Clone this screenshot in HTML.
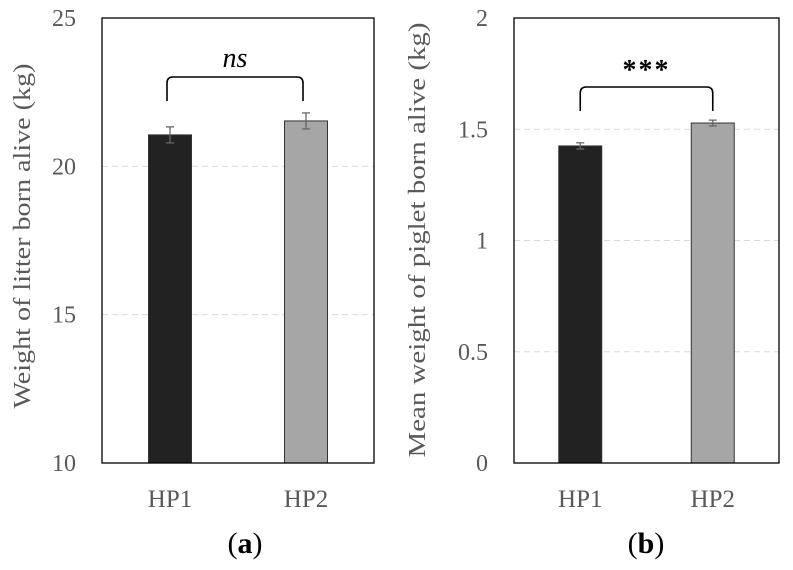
<!DOCTYPE html>
<html><head><meta charset="utf-8"><style>
html,body{margin:0;padding:0;background:#fff}
svg{display:block;font-family:"Liberation Serif",serif}
</style></head><body>
<svg id="c" width="793" height="570" viewBox="0 0 793 570"></svg>
<script>
const categories=["HP1","HP2"];
const litterValues=[21.06,21.53];
const litterErrors=[0.27,0.27];
const litterTicks=[10,15,20,25];
const pigletValues=[1.425,1.528];
const pigletErrors=[0.014,0.013];
const pigletTicks=[0,0.5,1,1.5,2];
const colors=["#222222","#a6a6a6"];
const NS="http://www.w3.org/2000/svg";
const svg=document.getElementById('c');
function mk(tag,attrs,parent){const e=document.createElementNS(NS,tag);for(const k in attrs)e.setAttribute(k,attrs[k]);(parent||svg).appendChild(e);return e;}
function panel(o){
  const g=mk('g',{});
  
  
  const y=v=>o.bottom-(v-o.min)/(o.max-o.min)*(o.bottom-o.top);
  o.ticks.forEach((t,i)=>{
    if(i>0&&i<o.ticks.length-1){const gl=mk('line',{x1:o.left,x2:o.right,y1:y(t),y2:y(t),stroke:'#d9d9d9','stroke-dasharray':'6 4','stroke-width':1},g);
      }
    const tl=mk('text',{x:o.left-26,y:y(t)+8,'text-anchor':'end','font-size':24,fill:'#595959'},g);
    tl.textContent=t;
    
  });
  const w=43,W=o.right-o.left,centers=[o.left+W*0.25,o.left+W*0.75];
  o.values.forEach((v,i)=>{
    const cx=centers[i];
    const b=mk('rect',{x:cx-w/2,y:y(v),width:w,height:o.bottom-y(v),fill:colors[i],stroke:'#333','stroke-width':1},g);
    
    const e=o.errors[i],eg=mk('g',{stroke:'#666','stroke-width':1.3},g);
    
    mk('line',{x1:cx,x2:cx,y1:y(v+e),y2:y(v-e)},eg);
    mk('line',{x1:cx-4,x2:cx+4,y1:y(v+e),y2:y(v+e)},eg);
    mk('line',{x1:cx-4,x2:cx+4,y1:y(v-e),y2:y(v-e)},eg);
    const xl=mk('text',{x:cx,y:507,'text-anchor':'middle','font-size':25,fill:'#595959'},g);
    xl.textContent=categories[i];
    
  });
  const fr=mk('rect',{x:o.left,y:o.top,width:W,height:o.bottom-o.top,fill:'none',stroke:'#000','stroke-width':1.3},g);
  
  const bx1=centers[0]+o.boff,bx2=centers[1]+o.boff;
  const br=mk('path',{d:`M${bx1} ${o.bt+24}V${o.bt+6}Q${bx1} ${o.bt} ${bx1+6} ${o.bt}H${bx2-6}Q${bx2} ${o.bt} ${bx2} ${o.bt+6}V${o.bt+24}`,fill:'none',stroke:'#000','stroke-width':1.6},g);
  
  const st=mk('text',{x:(bx1+bx2)/2,y:o.sy,'text-anchor':'middle','font-size':28,'font-style':o.sigItalic?'italic':'normal','font-weight':o.sigItalic?'normal':'bold','letter-spacing':o.sigItalic?0:2},g);
  st.textContent=o.sig;
  
  const tx=o.tx,ty=o.ty;
  const at=mk('text',{x:tx,y:ty,transform:`rotate(-90 ${tx} ${ty})`,'text-anchor':'middle','font-size':24,fill:'#595959',textLength:o.tl,lengthAdjust:'spacingAndGlyphs'},g);
  at.textContent=o.title;
  
  const pl=mk('text',{x:o.lx,y:553,'text-anchor':'middle','font-size':30,fill:'#000'},g);
  pl.innerHTML='(<tspan font-weight="bold">'+o.letter+'</tspan>)';
  
}
panel({name:'panel-a',left:102,right:374,top:18,bottom:463,min:10,max:25,ticks:litterTicks,values:litterValues,errors:litterErrors,bt:77,boff:-3,sy:67,sig:'ns',sigItalic:true,title:'Weight of litter born alive (kg)',tx:30,ty:236,tl:345,letter:'a',lx:245});
panel({name:'panel-b',left:514,right:779,top:18,bottom:463,min:0,max:2,ticks:pigletTicks,values:pigletValues,errors:pigletErrors,bt:87,boff:0,sy:79,sig:'***',sigItalic:false,title:'Mean weight of piglet born alive (kg)',tx:425,ty:240,tl:435,letter:'b',lx:646});
</script>
</body></html>
